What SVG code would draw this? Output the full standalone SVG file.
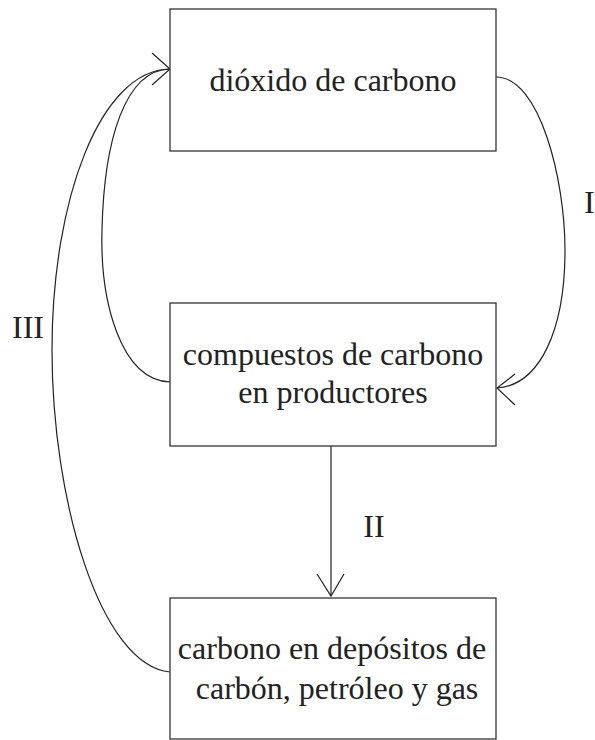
<svg xmlns="http://www.w3.org/2000/svg" width="595" height="740" viewBox="0 0 595 740">
<style>
.box{fill:#fff;stroke:#333;stroke-width:1.3}
.t{font-family:"Liberation Serif","Times New Roman",serif;font-size:32px;fill:#222}
.c{fill:none;stroke:#222;stroke-width:1.2}
</style>
<rect width="595" height="740" fill="#fff"/>
<g id="connectors">
<path class="c" d="M496,77 C540,77 565,180 565,250 C565,330 540,385 497,388"/>
<path class="c" d="M515,374 L497,388 L515,405"/>
<path class="c" d="M331,446 L331,596"/>
<path class="c" d="M317,574 L331,596 L344,574"/>
<path class="c" d="M170,382 C120,380 100,300 102,230 C104,140 125,70 170,69"/>
<path class="c" d="M170,672 C100,665 52,500 52,350 C52,200 100,70 170,69"/>
<path class="c" d="M152,53 L170,69 L152,85"/>
<text class="t" x="584" y="213">I</text>
<text class="t" x="374" y="537" text-anchor="middle">II</text>
<text class="t" x="28" y="338" text-anchor="middle">III</text>
</g>
<g id="n1">
<rect class="box" x="170" y="9" width="326" height="142"/>
<text class="t" x="333" y="91" text-anchor="middle">dióxido de carbono</text>
</g>
<g id="n2">
<rect class="box" x="170" y="303" width="326" height="143"/>
<text class="t" x="333" y="365" text-anchor="middle">compuestos de carbono</text>
<text class="t" x="333" y="403" text-anchor="middle">en productores</text>
</g>
<g id="n3">
<rect class="box" x="170" y="598" width="326" height="141"/>
<text class="t" x="332" y="659" text-anchor="middle">carbono en depósitos de</text>
<text class="t" x="337" y="699" text-anchor="middle">carbón, petróleo y gas</text>
</g>
</svg>
